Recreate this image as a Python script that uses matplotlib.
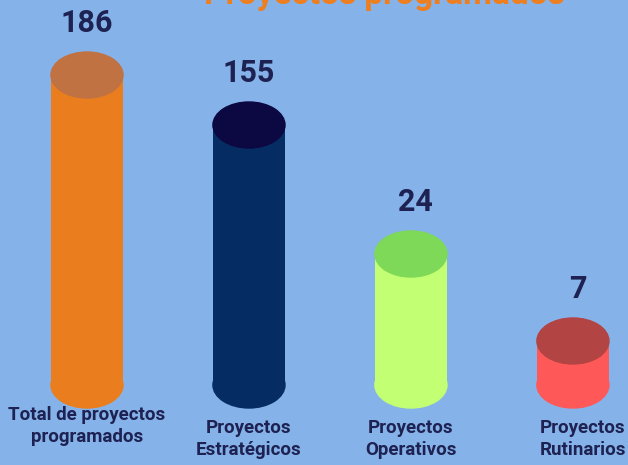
import matplotlib.pyplot as plt
from matplotlib.patches import Ellipse

# --- chart data
categories = ['Total de proyectos\nprogramados', 'Proyectos\nEstratégicos',
              'Proyectos\nOperativos', 'Proyectos\nRutinarios']
values = [186, 155, 24, 7]
# cylinder heights as drawn in the infographic (not proportional to values)
shown_heights = [310, 260, 131, 44]
body_colors = ['#EA7E1F', '#062C64', '#C2FF72', '#FF5858']
top_colors = ['#C07243', '#0C0841', '#7DD957', '#B24444']
title = 'Proyectos programados'

bg = '#85B3E9'
ink = '#1E2252'
font = ['Roboto', 'DejaVu Sans']

fig = plt.figure(figsize=(6.28, 4.65), dpi=100, facecolor=bg)
ax = fig.add_axes([0, 0, 1, 1])
ax.set_facecolor(bg)
ax.set_xlim(-0.537, 3.34)
ax.set_ylim(-80, 385)
ax.axis('off')

bar_w = 0.445
cap_h = 46

for i, (h, v) in enumerate(zip(shown_heights, values)):
    ax.bar(i, h, width=bar_w, bottom=0, color=body_colors[i], zorder=2)
    ax.add_patch(Ellipse((i, 0), bar_w, cap_h, color=body_colors[i], zorder=2))
    ax.add_patch(Ellipse((i, h), bar_w, cap_h, color=top_colors[i], zorder=3))
    ax.text(i + 0.03 * (i >= 2), h + 52, str(v), ha='center', va='center', fontsize=22,
            fontweight='bold', color=ink, family=font)

for i, cat in enumerate(categories):
    y = -21 if i == 0 else -34
    x = i + 0.06 if i == 3 else i
    ax.text(x, y, cat, ha='center', va='top', fontsize=13.5, fontweight='bold',
            color=ink, family=font, linespacing=1.25)

fig.text(0.612, 1 - 4 / 465, title, ha='center', va='baseline', fontsize=24,
         fontweight='bold', color='#EE7E1E', family=font)

fig.savefig('out.png', dpi=100, facecolor=bg)
